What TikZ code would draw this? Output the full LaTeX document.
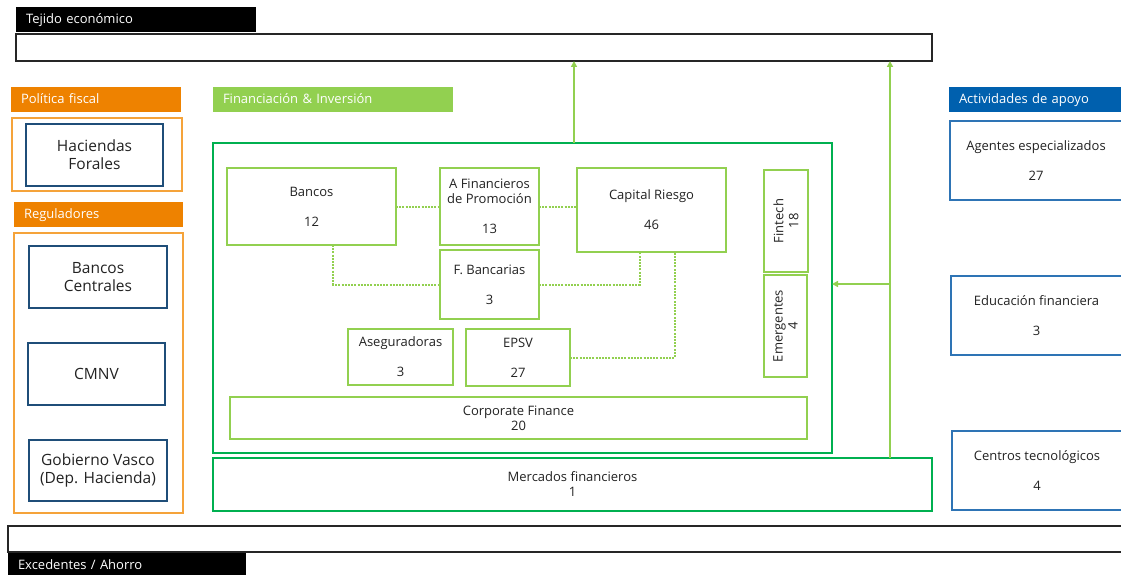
\documentclass[tikz,border=0pt]{standalone}
\usepackage{fontspec}
\setmainfont{Open Sans}
\usetikzlibrary{arrows.meta,calc}
\definecolor{txt}{HTML}{222222}
\definecolor{lgreen}{HTML}{92D050}
\definecolor{dgreen}{HTML}{00B050}
\definecolor{orng}{HTML}{EE8200}
\definecolor{lorng}{HTML}{F5A33A}
\definecolor{abl}{HTML}{0060AE}
\definecolor{bbl}{HTML}{2E74B5}
\definecolor{nbl}{HTML}{1F4E79}
\newcommand{\fs}[2]{\fontsize{#1}{#2}\selectfont}
\tikzset{
  every node/.style={inner sep=0pt, outer sep=0pt, text=txt},
  hdr/.style={fill=#1, text=white, minimum height=25pt, align=left, inner xsep=10pt, anchor=west, text height=10pt, text depth=1.5pt, font=\fs{13}{15}},
  obox/.style={draw=lorng, line width=1.4pt},
  rbox/.style={draw=nbl, line width=1.4pt, align=center, font=\fs{15.5}{18}},
  gbox/.style={draw=lgreen, line width=1.3pt, align=center, font=\fs{13}{15}},
  mbox/.style={draw=dgreen, line width=2pt, align=center, font=\fs{13}{15}},
  bbox/.style={draw=bbl, line width=1.3pt, align=center, font=\fs{13}{15}},
  kbox/.style={draw=black!85, line width=1.3pt},
  arr/.style={draw=lgreen, line width=2pt, -{Triangle[length=6pt,width=6pt]}},
  dotl/.style={draw=lgreen, line width=2pt, dash pattern=on 2pt off 1.2pt},
}
\begin{document}
\begin{tikzpicture}[x=1pt,y=-1pt]
\useasboundingbox (0,0) rectangle (1121,575);
% top
\node[hdr=black, text width=220pt] (tejlbl) at (16,19.5) {Tejido económico};
\node[kbox, minimum width=916pt, minimum height=27pt] (teb) at (474,47.5) {};
% left column
\node[hdr=orng, text width=150pt] (polf) at (11,99.5) {Política fiscal};
\node[obox, minimum width=170pt, minimum height=73pt] (hacout) at (97,154.5) {};
\node[rbox, minimum width=137pt, minimum height=62pt] (hacin) at (94.5,155) {Haciendas\\Forales};
\node[hdr=orng, text width=149pt] (reglbl) at (14,214.5) {Reguladores};
\node[obox, minimum width=169pt, minimum height=280pt] (regout) at (98.5,373) {};
\node[rbox, minimum width=138pt, minimum height=62pt] (bc) at (98,277) {Bancos\\Centrales};
\node[rbox, minimum width=137pt, minimum height=62pt] (cmnv) at (96.5,374) {CMNV};
\node[rbox, minimum width=138pt, minimum height=61pt] (gv) at (98,470.5) {Gobierno Vasco\\(Dep. Hacienda)};
% centre
\node[hdr=lgreen, text width=220pt] (finlbl) at (213,99.5) {Financiación \& Inversión};
\node[mbox, minimum width=619pt, minimum height=310pt] (main) at (522.5,298) {};
\node[gbox, minimum width=169pt, minimum height=77pt] (bancos) at (311.5,206.5) {Bancos\\[15pt]12};
\node[gbox, minimum width=99pt, minimum height=77pt] (afin) at (489.5,206.5) {A Financieros\\de Promoción\\[15pt]13};
\node[gbox, minimum width=149pt, minimum height=84pt] (cr) at (651.5,210) {Capital Riesgo\\[15pt]46};
\node[gbox, minimum width=99pt, minimum height=69pt] (fb) at (489.5,284.5) {F. Bancarias\\[15pt]3};
\node[gbox, minimum width=105pt, minimum height=56pt] (aseg) at (400.5,357) {Aseguradoras\\[15pt]3};
\node[gbox, minimum width=104pt, minimum height=57pt] (epsv) at (518,357.5) {EPSV\\[15pt]27};
\node[gbox, minimum width=44pt, minimum height=102pt] (fintech) at (786,221) {};
\node[rotate=90, align=center, font=\fs{13}{15}] (fintecht) at (fintech.center) {Fintech\\18};
\node[gbox, minimum width=43pt, minimum height=102pt] (emerg) at (785.5,326) {};
\node[rotate=90, align=center, font=\fs{13}{15}] (emergt) at (emerg.center) {Emergentes\\4};
\node[gbox, minimum width=577pt, minimum height=42pt] (cf) at (518.5,418) {Corporate Finance\\20};
\node[mbox, minimum width=719pt, minimum height=53pt] (mf) at (572.5,484.5) {Mercados financieros\\1};
% right column
\node[hdr=abl, text width=152pt] (actlbl) at (949,99.5) {Actividades de apoyo};
\node[bbox, minimum width=172pt, minimum height=79pt] (ag) at (1036,160.5) {Agentes especializados\\[15pt]27};
\node[bbox, minimum width=171pt, minimum height=79pt] (edu) at (1036.5,315.5) {Educación financiera\\[15pt]3};
\node[bbox, minimum width=170pt, minimum height=79pt] (ct) at (1037,470.5) {Centros tecnológicos\\[15pt]4};
% bottom
\node[kbox, minimum width=1120pt, minimum height=26pt] (bot) at (568,539) {};
\node[hdr=black, text width=218pt, minimum height=25pt] (exclbl) at (8,565.5) {Excedentes / Ahorro};
% arrows
\coordinate (c1) at (574,0);
\coordinate (c2) at (890,0);
\coordinate (c3) at (890,284);
\draw[arr] (c1 |- main.north) -- (c1 |- teb.south);
\draw[arr] (c2 |- mf.north) -- (c2 |- teb.south);
\draw[arr] (c3) -- (c3 -| main.east);
% dotted links
\draw[dotl] (bancos.east) -- (afin.west);
\draw[dotl] (afin.east) -- (afin.east -| cr.west);
\draw[dotl] ([xshift=21.5pt]bancos.south) |- (fb.west);
\draw[dotl] (fb.east) -| ([xshift=-11.5pt]cr.south);
\draw[dotl] (epsv.east) -| ([xshift=23.5pt]cr.south);
\end{tikzpicture}
\end{document}
